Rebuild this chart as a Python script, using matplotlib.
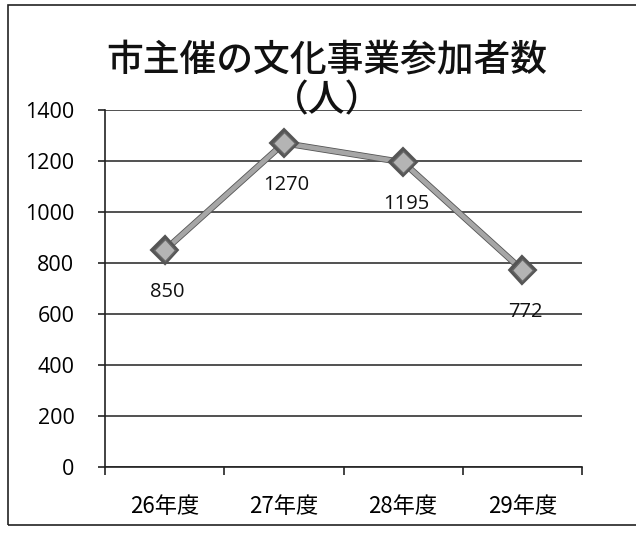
import matplotlib
matplotlib.use("Agg")
import matplotlib.pyplot as plt
import matplotlib.patheffects as pe
from matplotlib.patches import Rectangle

plt.rcParams['font.family'] = ['Noto Sans CJK JP', 'DejaVu Sans']

categories = ["26年度", "27年度", "28年度", "29年度"]
participants = [850, 1270, 1195, 772]
y_ticks = [0, 200, 400, 600, 800, 1000, 1200, 1400]

fig = plt.figure(figsize=(6.36, 5.4), dpi=100)
fig.patch.set_facecolor("white")

# outer chart frame
fig.patches.append(Rectangle((8 / 636, 15 / 540), 1.2, 520 / 540, transform=fig.transFigure,
                             fill=False, edgecolor="#222222", linewidth=1.2))

ax = fig.add_axes([105 / 636, 73 / 540, 477 / 636, 357 / 540])
x = list(range(len(categories)))

ax.plot(x, participants, color="#a6a6a6", linewidth=3.4, marker="D", markersize=11,
        markerfacecolor="#b4b4b4", markeredgecolor="#666666", markeredgewidth=1.0,
        path_effects=[pe.Stroke(linewidth=4.6, foreground="#555555"), pe.Normal()],
        zorder=3)

for xi, v in zip(x, participants):
    ax.annotate(str(v), (xi, v), xytext=(2, -30), textcoords="offset points",
                ha="center", va="center", fontsize=14.5, family=["Open Sans", "DejaVu Sans"],
                color="#111111")

ax.set_xlim(-0.5, len(categories) - 0.5)
ax.set_ylim(0, 1400)
ax.set_yticks(y_ticks)
ax.set_yticklabels([str(t) for t in y_ticks], fontsize=15.5, family=["Open Sans", "DejaVu Sans"])
ax.yaxis.grid(True, color="#222222", linewidth=1.1)
ax.set_axisbelow(True)

ax.set_xticks(x)
ax.set_xticklabels(categories, fontsize=16)
ax.tick_params(axis="x", length=0, pad=20)
ax.set_xticks([i - 0.5 for i in range(len(categories) + 1)], minor=True)
ax.tick_params(axis="x", which="minor", length=6, width=1.2, color="#222222")
ax.tick_params(axis="y", length=5, width=1.2, color="#222222", pad=17)

for side in ["top", "right"]:
    ax.spines[side].set_visible(False)
ax.spines["left"].set_color("#222222")
ax.spines["left"].set_linewidth(1.2)
ax.spines["bottom"].set_color("#222222")
ax.spines["bottom"].set_linewidth(1.2)

fig.text(327 / 636, 1 - 60 / 540, "市主催の文化事業参加者数", ha="center", va="center",
         fontsize=26.5, fontweight="medium", color="#111111")
fig.text(327 / 636, 1 - 100 / 540, "（人）", ha="center", va="center",
         fontsize=26.5, fontweight="medium", color="#111111")

fig.savefig("out.png", dpi=100, facecolor="white")
